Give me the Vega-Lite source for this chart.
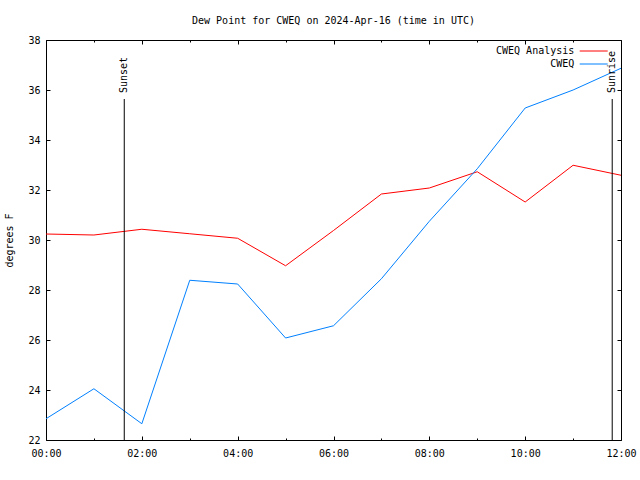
{
  "$schema": "https://vega.github.io/schema/vega-lite/v6.json",
  "width": 575,
  "height": 400,
  "autosize": "none",
  "padding": {"left": 46, "top": 40, "right": 19, "bottom": 40},
  "background": "white",
  "config": {
    "view": {"stroke": "black", "strokeWidth": 1},
    "font": "DejaVu Sans Mono",
    "axis": {
      "grid": false,
      "domain": false,
      "tickColor": "black",
      "tickWidth": 1,
      "labelColor": "black",
      "labelFont": "DejaVu Sans Mono",
      "labelFontSize": 10,
      "titleFont": "DejaVu Sans Mono",
      "titleFontSize": 10,
      "titleFontWeight": "normal",
      "titleColor": "black"
    },
    "legend": {
      "labelFont": "DejaVu Sans Mono",
      "labelFontSize": 10,
      "labelColor": "black"
    }
  },
  "title": {
    "text": "Dew Point for CWEQ on 2024-Apr-16 (time in UTC)",
    "font": "DejaVu Sans Mono",
    "fontSize": 10,
    "fontWeight": "normal",
    "color": "black",
    "anchor": "middle",
    "baseline": "alphabetic",
    "offset": 1
  },
  "datasets": {
    "dew": [
      {"time": "2024-04-16T00:00:00Z", "series": "CWEQ Analysis", "value": 30.24},
      {"time": "2024-04-16T01:00:00Z", "series": "CWEQ Analysis", "value": 30.2},
      {"time": "2024-04-16T02:00:00Z", "series": "CWEQ Analysis", "value": 30.43},
      {"time": "2024-04-16T03:00:00Z", "series": "CWEQ Analysis", "value": 30.25},
      {"time": "2024-04-16T04:00:00Z", "series": "CWEQ Analysis", "value": 30.07},
      {"time": "2024-04-16T05:00:00Z", "series": "CWEQ Analysis", "value": 28.97},
      {"time": "2024-04-16T06:00:00Z", "series": "CWEQ Analysis", "value": 30.38},
      {"time": "2024-04-16T07:00:00Z", "series": "CWEQ Analysis", "value": 31.84},
      {"time": "2024-04-16T08:00:00Z", "series": "CWEQ Analysis", "value": 32.08},
      {"time": "2024-04-16T09:00:00Z", "series": "CWEQ Analysis", "value": 32.73},
      {"time": "2024-04-16T10:00:00Z", "series": "CWEQ Analysis", "value": 31.52},
      {"time": "2024-04-16T11:00:00Z", "series": "CWEQ Analysis", "value": 32.99},
      {"time": "2024-04-16T12:00:00Z", "series": "CWEQ Analysis", "value": 32.59},
      {"time": "2024-04-16T00:00:00Z", "series": "CWEQ", "value": 22.85},
      {"time": "2024-04-16T01:00:00Z", "series": "CWEQ", "value": 24.05},
      {"time": "2024-04-16T02:00:00Z", "series": "CWEQ", "value": 22.65},
      {"time": "2024-04-16T03:00:00Z", "series": "CWEQ", "value": 28.39},
      {"time": "2024-04-16T04:00:00Z", "series": "CWEQ", "value": 28.24},
      {"time": "2024-04-16T05:00:00Z", "series": "CWEQ", "value": 26.08},
      {"time": "2024-04-16T06:00:00Z", "series": "CWEQ", "value": 26.57},
      {"time": "2024-04-16T07:00:00Z", "series": "CWEQ", "value": 28.45},
      {"time": "2024-04-16T08:00:00Z", "series": "CWEQ", "value": 30.75},
      {"time": "2024-04-16T09:00:00Z", "series": "CWEQ", "value": 32.85},
      {"time": "2024-04-16T10:00:00Z", "series": "CWEQ", "value": 35.28},
      {"time": "2024-04-16T11:00:00Z", "series": "CWEQ", "value": 36.0},
      {"time": "2024-04-16T12:00:00Z", "series": "CWEQ", "value": 36.87}
    ],
    "sun": [
      {"time": "2024-04-16T01:38:00Z", "event": "Sunset"},
      {"time": "2024-04-16T11:49:00Z", "event": "Sunrise"}
    ]
  },
  "layer": [
    {
      "data": {"name": "dew"},
      "mark": {"type": "line", "strokeWidth": 1, "clip": true},
      "encoding": {
        "x": {
          "field": "time",
          "type": "temporal",
          "scale": {"type": "utc", "domain": [1713225600000, 1713268800000], "nice": false},
          "title": null,
          "axis": {
            "orient": "bottom",
            "format": "%H:%M",
            "values": [1713225600000, 1713232800000, 1713240000000, 1713247200000, 1713254400000, 1713261600000, 1713268800000],
            "tickSize": -4,
            "labelPadding": 12,
            "labelFlush": false,
            "labelOverlap": false
          }
        },
        "y": {
          "field": "value",
          "type": "quantitative",
          "scale": {"domain": [22, 38], "nice": false, "zero": false},
          "title": "degrees F",
          "axis": {
            "orient": "left",
            "values": [22, 24, 26, 28, 30, 32, 34, 36, 38],
            "tickSize": -4,
            "labelPadding": 10,
            "titlePadding": 13
          }
        },
        "color": {
          "field": "series",
          "type": "nominal",
          "scale": {"domain": ["CWEQ Analysis", "CWEQ"], "range": ["#ff0000", "#0080ff"]},
          "legend": {
            "title": null,
            "orient": "none",
            "legendX": 542.7,
            "legendY": 6,
            "padding": 0,
            "symbolType": "M-7,0H7",
            "symbolSize": 16,
            "symbolStrokeWidth": 1,
            "symbolFillColor": "transparent",
            "labelAlign": "right",
            "labelOffset": -24.4,
            "rowPadding": 3
          }
        }
      }
    },
    {
      "data": {"name": "sun"},
      "mark": {"type": "rule", "color": "black", "strokeWidth": 1},
      "encoding": {
        "x": {
          "field": "time",
          "type": "temporal",
          "scale": {"type": "utc"},
          "title": null,
          "axis": {
            "orient": "top",
            "labels": false,
            "values": [1713225600000, 1713232800000, 1713240000000, 1713247200000, 1713254400000, 1713261600000, 1713268800000],
            "tickSize": -4
          }
        },
        "y": {
          "datum": 35.64,
          "type": "quantitative",
          "title": null,
          "axis": {
            "orient": "right",
            "labels": false,
            "values": [22, 24, 26, 28, 30, 32, 34, 36, 38],
            "tickSize": -4
          }
        },
        "y2": {"datum": 22}
      }
    },
    {
      "data": {"name": "sun"},
      "mark": {"type": "text", "angle": 270, "align": "left", "baseline": "middle", "font": "DejaVu Sans Mono", "fontSize": 10, "color": "black"},
      "encoding": {
        "x": {
          "field": "time",
          "type": "temporal",
          "scale": {"type": "utc"},
          "title": null,
          "axis": {
            "orient": "bottom",
            "labels": false,
            "values": [1713229200000, 1713236400000, 1713243600000, 1713250800000, 1713258000000, 1713265200000],
            "tickSize": -2
          }
        },
        "y": {"datum": 35.88, "type": "quantitative", "axis": null},
        "text": {"field": "event"}
      }
    },
    {
      "data": {"name": "sun"},
      "mark": {"type": "text", "opacity": 0},
      "encoding": {
        "x": {
          "field": "time",
          "type": "temporal",
          "scale": {"type": "utc"},
          "title": null,
          "axis": {
            "orient": "top",
            "labels": false,
            "values": [1713229200000, 1713236400000, 1713243600000, 1713250800000, 1713258000000, 1713265200000],
            "tickSize": -2
          }
        },
        "y": {"datum": 35.88, "type": "quantitative", "axis": null},
        "text": {"value": ""}
      }
    }
  ],
  "resolve": {"axis": {"x": "independent", "y": "independent"}}
}
